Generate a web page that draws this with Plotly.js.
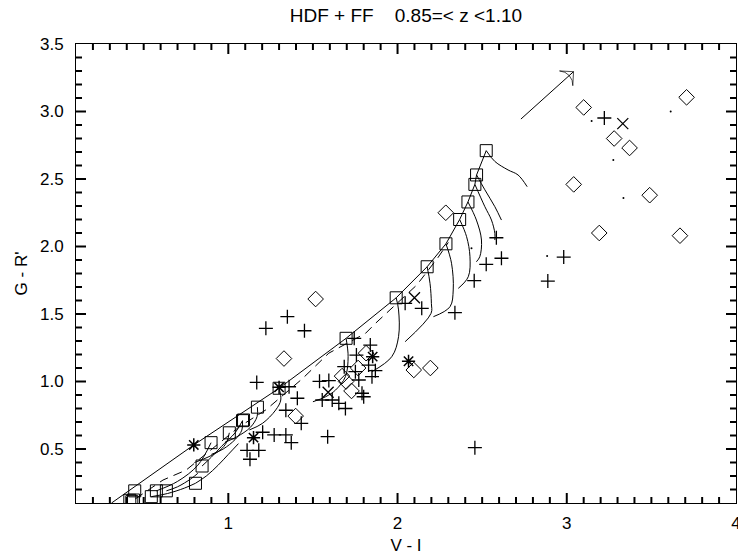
<!DOCTYPE html>
<html>
<head>
<meta charset="utf-8">
<script src="https://cdn.plot.ly/plotly-3.0.1.min.js"></script>
<style>html,body{margin:0;padding:0;background:#fff;}#chart{width:738px;height:558px;}</style>
</head>
<body>
<div id="chart"></div>
<script>
// ---- data (V-I, G-R') ----
const squareX = [2.524, 2.467, 2.457, 2.416, 2.367, 2.286, 2.175, 1.992, 1.696, 1.300, 1.172, 1.084, 1.090, 1.006, 0.898, 0.845, 0.806, 0.634, 0.575, 0.447, 0.545, 0.440, 0.418, 0.430];
const squareY = [2.71, 2.53, 2.46, 2.33, 2.20, 2.02, 1.85, 1.62, 1.32, 0.95, 0.81, 0.71, 0.715, 0.62, 0.547, 0.374, 0.246, 0.19, 0.19, 0.19, 0.147, 0.122, 0.12, 0.11];

const plusX = [1.349, 1.222, 1.450, 1.168, 1.408, 1.340, 1.431, 1.203, 1.271, 1.340, 1.372, 1.111, 1.180, 1.128, 1.587, 2.457, 1.359, 1.539, 1.594, 1.685, 1.751, 1.757, 1.839, 1.744, 1.771, 1.849, 1.869, 1.829, 1.790, 1.800, 1.653, 1.692, 1.555, 1.614, 2.143, 2.339, 2.045, 2.584, 2.614, 2.524, 2.453, 2.888, 2.982, 3.222];
const plusY = [1.480, 1.394, 1.376, 0.993, 0.876, 0.787, 0.690, 0.624, 0.604, 0.604, 0.547, 0.490, 0.490, 0.424, 0.591, 0.510, 0.961, 1.001, 1.007, 1.110, 1.073, 1.196, 1.270, 1.320, 1.011, 1.036, 1.080, 1.122, 0.913, 0.887, 0.838, 0.800, 0.863, 0.863, 1.542, 1.510, 1.579, 2.065, 1.913, 1.868, 1.747, 1.744, 1.922, 2.952];

const diamondX = [1.516, 1.329, 1.398, 1.672, 1.696, 1.728, 1.767, 1.814, 2.096, 2.194, 2.285, 3.100, 3.708, 3.280, 3.371, 3.041, 3.490, 3.192, 3.669];
const diamondY = [1.611, 1.170, 0.744, 1.040, 1.000, 0.930, 1.100, 1.210, 1.085, 1.100, 2.250, 3.030, 3.105, 2.800, 2.730, 2.460, 2.380, 2.100, 2.080];

const starX = [0.796, 1.300, 1.149, 1.853, 2.065];
const starY = [0.530, 0.957, 0.584, 1.184, 1.150];

const crossX = [2.100, 3.331, 1.590];
const crossY = [1.620, 2.910, 0.920];

const dotX = [3.147, 3.614, 3.275, 3.335, 2.884, 2.437];
const dotY = [2.930, 3.000, 2.640, 2.360, 1.930, 1.987];

// model sequence (solid) and second sequence (dashed)
const mainLineX = [0.31, 0.796, 1.30, 1.696, 1.992, 2.175, 2.286, 2.367, 2.416, 2.457, 2.467, 2.524];
const mainLineY = [0.10, 0.53, 0.95, 1.32, 1.62, 1.85, 2.02, 2.20, 2.33, 2.46, 2.53, 2.71];
const dashLineX = [0.45, 0.614, 0.751, 1.065, 1.222, 1.437, 1.594, 1.811, 1.869, 2.114, 2.24, 2.30];
const dashLineY = [0.13, 0.27, 0.344, 0.665, 0.79, 1.02, 1.21, 1.357, 1.43, 1.715, 1.92, 2.03];

// redshift tracks starting at each model square
const trackXs = [
  [2.524, 2.575, 2.653, 2.712, 2.766],
  [2.467, 2.516, 2.575, 2.614],
  [2.457, 2.516, 2.555, 2.575, 2.575],
  [2.416, 2.466, 2.496, 2.486, 2.466],
  [2.367, 2.408, 2.428, 2.418, 2.359],
  [2.286, 2.319, 2.329, 2.310, 2.212],
  [2.175, 2.192, 2.200, 2.198, 2.045],
  [1.992, 2.006, 2.006, 1.966, 1.849],
  [1.696, 1.708, 1.692, 1.634, 1.575, 1.50],
  [1.300, 1.310, 1.280, 1.202, 1.124],
  [1.172, 1.170, 1.130, 1.050, 0.980],
  [1.084, 1.080, 1.040, 0.970, 0.900],
  [1.006, 0.990, 0.950, 0.880, 0.800],
  [0.845, 0.900, 0.960, 1.040, 1.084],
  [0.806, 0.870, 0.940, 1.000, 1.060],
  [0.634, 0.700, 0.780, 0.820],
  [0.545, 0.640, 0.740, 0.806],
  [0.575, 0.700, 0.820, 0.898]
];
const trackYs = [
  [2.710, 2.630, 2.567, 2.530, 2.443],
  [2.530, 2.420, 2.295, 2.196],
  [2.460, 2.295, 2.196, 2.098, 2.048],
  [2.330, 2.196, 2.048, 1.924, 1.887],
  [2.200, 2.073, 1.924, 1.776, 1.690],
  [2.020, 1.876, 1.678, 1.554, 1.480],
  [1.850, 1.727, 1.579, 1.505, 1.295],
  [1.620, 1.530, 1.332, 1.184, 1.073],
  [1.320, 1.184, 1.036, 0.937, 0.887, 0.85],
  [0.950, 0.863, 0.789, 0.690, 0.641],
  [0.810, 0.740, 0.660, 0.590, 0.550],
  [0.710, 0.640, 0.570, 0.500, 0.460],
  [0.620, 0.550, 0.490, 0.440, 0.400],
  [0.374, 0.440, 0.520, 0.620, 0.710],
  [0.246, 0.300, 0.380, 0.460, 0.540],
  [0.190, 0.220, 0.280, 0.320],
  [0.147, 0.170, 0.210, 0.246],
  [0.190, 0.260, 0.380, 0.547]
];

const arrowX = [2.729, 3.04];
const arrowY = [2.944, 3.295];

// axis ranges and tick values
const xRange = [0.1, 4.0];
const yRange = [0.1, 3.5];
const xMajor = [1, 2, 3, 4];
const yMajor = [0.5, 1.0, 1.5, 2.0, 2.5, 3.0, 3.5];

// ---- plot geometry ----
const W = 738, H = 558;
const M = {l: 76, r: 2, t: 44, b: 55};
const pxX = (xRange[1] - xRange[0]) / (W - M.l - M.r);
const pxY = (yRange[1] - yRange[0]) / (H - M.t - M.b);

// ---- traces ----
const traces = [];
const lineStyle = {color: '#000', width: 1};
for (let i = 0; i < trackXs.length; i++) {
  traces.push({x: trackXs[i], y: trackYs[i], type: 'scatter', mode: 'lines',
    line: {color: '#000', width: 1, shape: 'spline', smoothing: 1}, hoverinfo: 'skip'});
}
traces.push({x: mainLineX, y: mainLineY, type: 'scatter', mode: 'lines', line: lineStyle});
traces.push({x: dashLineX, y: dashLineY, type: 'scatter', mode: 'lines',
  line: {color: '#000', width: 1, dash: '9px,6px'}});
traces.push({x: arrowX, y: arrowY, type: 'scatter', mode: 'lines+markers', line: lineStyle,
  marker: {symbol: 'arrow-wide-open', angleref: 'previous', size: [0, 14], color: '#000', line: {color: '#000', width: 1}}});
const mk = (x, y, symbol, size, lw) => ({x: x, y: y, type: 'scatter', mode: 'markers',
  marker: {symbol: symbol, size: size, color: '#000', line: {color: '#000', width: lw}}});
traces.push(mk(squareX, squareY, 'square-open', 12, 1));
traces.push(mk(diamondX, diamondY, 'diamond-open', 12, 1));
traces.push(mk(plusX, plusY, 'cross-thin-open', 10, 1.3));
traces.push(mk(starX, starY, 'asterisk-open', 11, 1.5));
traces.push(mk(crossX, crossY, 'x-thin-open', 11, 1.3));
traces.push(mk(dotX, dotY, 'circle', 2, 0));

// ---- tick marks drawn inside on all four sides (one trace per tick) ----
function tickTrace(xs, ys) {
  traces.push({x: xs, y: ys, type: 'scatter', mode: 'lines', line: {color: '#000', width: 2},
    hoverinfo: 'skip', showlegend: false});
}
for (let k = 2; k < 40; k++) {
  const v = k / 10;
  const len = xMajor.some(m => Math.abs(m - v) < 1e-9) ? 10 : 6;
  tickTrace([v, v], [yRange[0], yRange[0] + len * pxY]);
  tickTrace([v, v], [yRange[1], yRange[1] - len * pxY]);
}
for (let k = 2; k < 35; k++) {
  const v = k / 10;
  const len = yMajor.some(m => Math.abs(m - v) < 1e-9) ? 10 : 6;
  tickTrace([xRange[0], xRange[0] + len * pxX], [v, v]);
  tickTrace([xRange[1], xRange[1] - len * pxX], [v, v]);
}

const tickFont = {family: 'Liberation Sans, Arial, sans-serif', size: 17, color: '#000'};
const titleFont = {family: 'Liberation Sans, Arial, sans-serif', size: 17, color: '#000'};
const layout = {
  width: W, height: H,
  margin: M,
  paper_bgcolor: '#fff', plot_bgcolor: '#fff',
  showlegend: false,
  font: tickFont,
  title: {text: 'HDF + FF\u00a0\u00a0\u00a0\u00a00.85=< z <1.10', x: 0.55, xanchor: 'center',
    y: 0.972, yref: 'container', yanchor: 'middle',
    font: {family: 'Liberation Sans, Arial, sans-serif', size: 19, color: '#000'}},
  xaxis: {range: xRange, tickmode: 'array', tickvals: xMajor, ticktext: xMajor.map(String), ticks: '',
    ticklabelstandoff: 5, ticklabeloverflow: 'allow',
    showline: true, linecolor: '#000', linewidth: 1, mirror: true,
    showgrid: false, zeroline: false, tickfont: tickFont,
    title: {text: 'V - I', font: titleFont, standoff: 6}},
  yaxis: {range: yRange, tickmode: 'array', tickvals: yMajor, ticktext: yMajor.map(v => v.toFixed(1)), ticks: '',
    ticklabelstandoff: 8, ticklabeloverflow: 'allow',
    showline: true, linecolor: '#000', linewidth: 1, mirror: true,
    showgrid: false, zeroline: false, tickfont: tickFont,
    title: {text: "G - R'", font: titleFont, standoff: 8}}
};
Plotly.newPlot('chart', traces, layout, {staticPlot: true, displayModeBar: false});
</script>
</body>
</html>
